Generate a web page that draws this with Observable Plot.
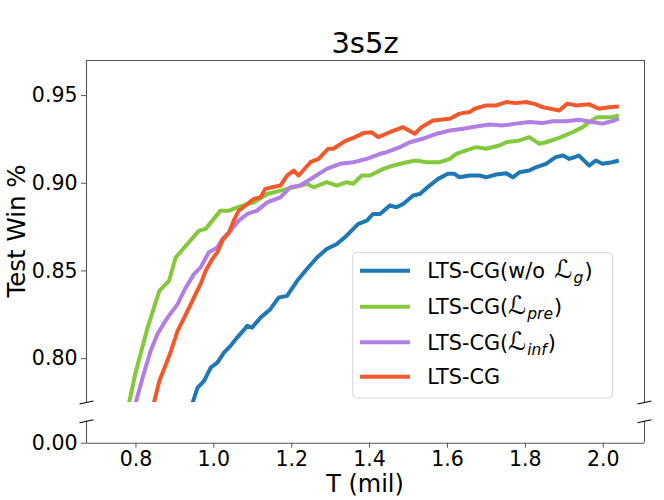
<!DOCTYPE html>
<html><head><meta charset="utf-8">
<script src="https://cdn.jsdelivr.net/npm/d3@7"></script>
<script src="https://cdn.jsdelivr.net/npm/@observablehq/plot@0.6"></script>
<style>
body{margin:0;background:#fff;font-family:"DejaVu Sans",sans-serif}
#wrap{position:relative;width:664px;height:500px;overflow:hidden;background:#fff}
#wrap svg{position:absolute;left:0;overflow:visible;background:transparent}
</style></head><body><div id="wrap"></div>
<script>
// ---- data ----
const seriesNames = ["LTS-CG(w/o Lg)", "LTS-CG(Lpre)", "LTS-CG(Linf)", "LTS-CG"];
const seriesColors = ["#1f77b4", "#84c83c", "#b07ee4", "#f2592a"];
const xTicks = [0.8, 1.0, 1.2, 1.4, 1.6, 1.8, 2.0];
const yTicksUpper = [0.80, 0.85, 0.90, 0.95];
const yTicksLower = [0.00];

const woLg = [[0.945,0.7745],[0.958,0.7834],[0.975,0.7873],[0.992,0.7949],[1.009,0.7977],[1.026,0.8034],[1.043,0.8073],[1.060,0.812],[1.086,0.8187],[1.098,0.8177],[1.120,0.8234],[1.145,0.8282],[1.167,0.8349],[1.188,0.8358],[1.214,0.8444],[1.239,0.8511],[1.265,0.8577],[1.290,0.8625],[1.316,0.8654],[1.341,0.8701],[1.371,0.8768],[1.393,0.8787],[1.409,0.8825],[1.427,0.8825],[1.452,0.8873],[1.469,0.8863],[1.486,0.8882],[1.512,0.893],[1.529,0.8939],[1.554,0.8987],[1.576,0.9025],[1.601,0.9054],[1.618,0.9054],[1.631,0.9034],[1.657,0.9044],[1.682,0.9044],[1.699,0.9034],[1.725,0.905],[1.751,0.9057],[1.768,0.9034],[1.785,0.9063],[1.810,0.9073],[1.827,0.9091],[1.853,0.9111],[1.878,0.9149],[1.897,0.9158],[1.913,0.9139],[1.938,0.9158],[1.964,0.9101],[1.981,0.913],[1.998,0.9111],[2.023,0.912],[2.040,0.913]];
const lPre = [[0.782,0.7745],[0.800,0.7930],[0.830,0.8177],[0.860,0.8387],[0.885,0.8444],[0.902,0.8577],[0.932,0.8654],[0.962,0.873],[0.979,0.874],[1.017,0.8844],[1.039,0.8844],[1.060,0.8863],[1.103,0.8891],[1.137,0.8939],[1.171,0.8958],[1.205,0.8977],[1.239,0.8997],[1.256,0.8977],[1.290,0.9006],[1.316,0.8987],[1.341,0.9006],[1.358,0.8997],[1.380,0.9044],[1.401,0.9044],[1.435,0.9082],[1.461,0.9101],[1.495,0.912],[1.520,0.913],[1.546,0.912],[1.580,0.912],[1.606,0.9139],[1.623,0.9168],[1.648,0.9187],[1.674,0.9206],[1.699,0.9197],[1.733,0.9215],[1.751,0.9234],[1.785,0.9244],[1.810,0.9263],[1.836,0.9225],[1.853,0.9234],[1.887,0.9259],[1.921,0.9291],[1.947,0.932],[1.964,0.9349],[1.985,0.9377],[2.023,0.9377],[2.040,0.9387]];
const lInf = [[0.799,0.7745],[0.817,0.7891],[0.838,0.8047],[0.855,0.8139],[0.881,0.8234],[0.907,0.8311],[0.928,0.8406],[0.949,0.8482],[0.966,0.852],[0.987,0.8606],[1.009,0.8634],[1.022,0.8682],[1.043,0.873],[1.064,0.8787],[1.086,0.8825],[1.111,0.8844],[1.137,0.8891],[1.171,0.892],[1.196,0.8977],[1.222,0.8987],[1.256,0.9034],[1.290,0.9082],[1.324,0.9111],[1.358,0.912],[1.393,0.9139],[1.427,0.9168],[1.444,0.9177],[1.478,0.9206],[1.503,0.9234],[1.537,0.9254],[1.572,0.9282],[1.606,0.9301],[1.640,0.9311],[1.674,0.9324],[1.708,0.9335],[1.742,0.933],[1.776,0.934],[1.810,0.9349],[1.844,0.9343],[1.870,0.9354],[1.904,0.9354],[1.938,0.9362],[1.972,0.9349],[1.998,0.934],[2.023,0.9354],[2.040,0.9368]];
const ltsCG = [[0.846,0.7745],[0.860,0.7873],[0.877,0.7968],[0.890,0.8044],[0.907,0.8158],[0.924,0.8234],[0.941,0.8311],[0.953,0.8368],[0.966,0.8425],[0.979,0.8501],[0.996,0.8568],[1.009,0.8606],[1.022,0.8673],[1.039,0.872],[1.051,0.8787],[1.064,0.8844],[1.086,0.8882],[1.103,0.8911],[1.120,0.892],[1.132,0.8968],[1.150,0.8977],[1.171,0.8987],[1.188,0.9044],[1.205,0.9073],[1.218,0.9044],[1.248,0.912],[1.269,0.9139],[1.294,0.9197],[1.307,0.9197],[1.337,0.924],[1.358,0.9259],[1.384,0.9286],[1.405,0.9291],[1.422,0.9263],[1.452,0.9291],[1.486,0.932],[1.516,0.9282],[1.533,0.932],[1.563,0.9358],[1.606,0.9368],[1.631,0.9397],[1.657,0.9406],[1.670,0.9425],[1.699,0.9444],[1.725,0.9444],[1.751,0.9463],[1.776,0.9457],[1.802,0.9463],[1.827,0.945],[1.844,0.9434],[1.887,0.9415],[1.908,0.9454],[1.930,0.9444],[1.964,0.945],[1.989,0.9425],[2.015,0.9434],[2.040,0.9438]];

const allSeries = [woLg, lPre, lInf, ltsCG];
const rows = allSeries.flatMap((s, i) => s.map(([x, y]) => ({x, y, k: seriesNames[i]})));

// ---- layout ----
const W = 664;
const xDomain = [0.673, 2.106];
const yUpper = [0.775, 0.97];
const yLower = [0, 0.0125];
const spine = "#555";
const wrap = document.getElementById("wrap");
const commonStyle = {fontFamily: "DejaVu Sans, sans-serif", fontSize: "20.5px", color: "#000", background: "transparent", overflow: "visible"};
const colorScale = {domain: seriesNames, range: seriesColors};

// break mark helpers (half-extent in data units, ~7px wide, ~1.5px tall)
const bdx = (xDomain[1] - xDomain[0]) * 7 / 558;
function breaks(y0, dy) {
  return [xDomain[0], xDomain[1]].map(x => ({x1: x - bdx, x2: x + bdx, y1: y0 - dy, y2: y0 + dy}));
}

const upper = Plot.plot({
  width: W, height: 410, marginTop: 60, marginBottom: 8, marginLeft: 86, marginRight: 20,
  style: commonStyle,
  x: {domain: xDomain, axis: null},
  y: {domain: yUpper, axis: null},
  color: colorScale,
  marks: [
    Plot.line(rows, {x: "x", y: "y", z: "k", stroke: "k", strokeWidth: 4, strokeLinejoin: "round", strokeLinecap: "butt", clip: true}),
    Plot.axisY({ticks: yTicksUpper, tickFormat: d3.format(".2f"), tickSize: 5, tickPadding: 4, label: null, stroke: spine}),
    Plot.ruleY([yUpper[1]], {stroke: spine, strokeWidth: 1.1}),
    Plot.ruleX([xDomain[0], xDomain[1]], {stroke: spine, strokeWidth: 1.1}),
    Plot.link(breaks(yUpper[0], (yUpper[1]-yUpper[0]) * 1.5 / 342), {x1: "x1", x2: "x2", y1: "y1", y2: "y2", stroke: "#000", strokeWidth: 1.1})
  ]
});
upper.style.top = "0px";
wrap.appendChild(upper);

const lower = Plot.plot({
  width: W, height: 88, marginTop: 8.7, marginBottom: 57.3, marginLeft: 86, marginRight: 20,
  style: commonStyle,
  x: {domain: xDomain, axis: null},
  y: {domain: yLower, axis: null},
  marks: [
    Plot.axisY({ticks: yTicksLower, tickFormat: d3.format(".2f"), tickSize: 5, tickPadding: 4, label: null, stroke: spine}),
    Plot.axisX({ticks: xTicks, tickFormat: d3.format(".1f"), tickSize: 5, tickPadding: 3, label: null, stroke: spine}),
    Plot.ruleY([yLower[0]], {stroke: spine, strokeWidth: 1.1}),
    Plot.ruleX([xDomain[0], xDomain[1]], {stroke: spine, strokeWidth: 1.1}),
    Plot.link(breaks(yLower[1], (yLower[1]-yLower[0]) * 1.5 / 22), {x1: "x1", x2: "x2", y1: "y1", y2: "y2", stroke: "#000", strokeWidth: 1.1})
  ]
});
lower.style.top = "412px";
wrap.appendChild(lower);

// ---- titles, labels, legend overlay ----
const ov = d3.select(wrap).append("svg").attr("width", W).attr("height", 500)
  .style("top", "0px").style("pointer-events", "none")
  .attr("font-family", "DejaVu Sans, sans-serif");
ov.append("text").attr("x", 365).attr("y", 53).attr("text-anchor", "middle").attr("font-size", 29).text("3s5z");
ov.append("text").attr("x", 365).attr("y", 491.5).attr("text-anchor", "middle").attr("font-size", 24).text("T (mil)");
ov.append("text").attr("transform", "translate(25,231) rotate(-90)").attr("text-anchor", "middle").attr("font-size", 24.5).text("Test Win %");

const lg = ov.append("g");
lg.append("rect").attr("x", 352.7).attr("y", 252.7).attr("width", 260).attr("height", 145.3).attr("rx", 4)
  .attr("fill", "#fff").attr("fill-opacity", 0.8).attr("stroke", "#d5d5d5");
const labelParts = [
  [["LTS-CG(w/o ", null], ["ℒ", "cal"], ["g", "sub"], [")", "end"]],
  [["LTS-CG(", null], ["ℒ", "cal"], ["pre", "sub"], [")", "end"]],
  [["LTS-CG(", null], ["ℒ", "cal"], ["inf", "sub"], [")", "end"]],
  [["LTS-CG", null]]
];
const rowY = [270.7, 306.7, 342.3, 376.7];
seriesNames.forEach((name, i) => {
  lg.append("line").attr("x1", 360).attr("x2", 410).attr("y1", rowY[i]).attr("y2", rowY[i])
    .attr("stroke", seriesColors[i]).attr("stroke-width", 4);
  const t = lg.append("text").attr("x", 427.3).attr("y", rowY[i] + 7.6).attr("font-size", 20.8);
  labelParts[i].forEach(([s, kind]) => {
    const sp = t.append("tspan").text(s);
    if (kind === "cal") sp.attr("font-style", "italic").attr("font-size", 25).attr("dx", i === 0 ? 3 : 0);
    if (kind === "sub") sp.attr("font-style", "italic").attr("font-size", 15.5).attr("dy", 5).attr("dx", 1);
    if (kind === "end") sp.attr("dy", -5).attr("dx", 1);
  });
});
</script></body></html>
